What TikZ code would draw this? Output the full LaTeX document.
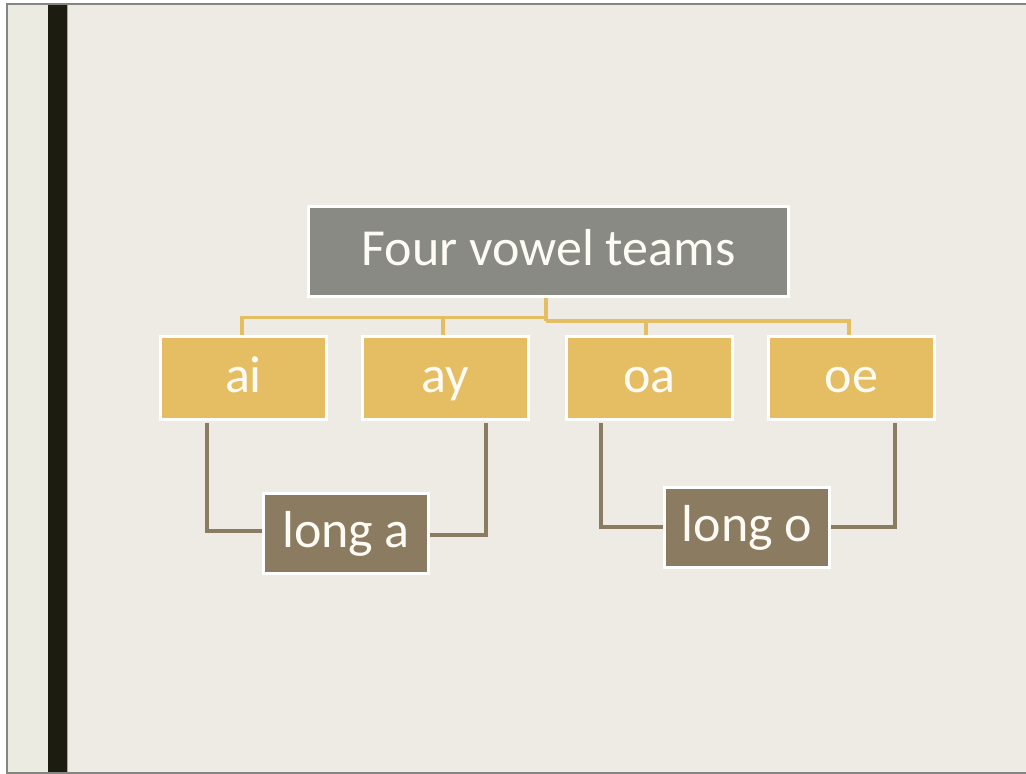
\documentclass[tikz,border=0pt]{standalone}
\usepackage{fontspec}
\setmainfont{Carlito}
\usetikzlibrary{calc}

\definecolor{paper}{HTML}{EEEBE4}
\definecolor{paperleft}{HTML}{ECEBE2}
\definecolor{frame}{HTML}{858583}
\definecolor{bar}{HTML}{1C1C10}
\definecolor{topgray}{HTML}{8A8A85}
\definecolor{gold}{HTML}{E5BE64}
\definecolor{umber}{HTML}{8B7B60}
\definecolor{legbrown}{HTML}{8A7C63}
\definecolor{inktext}{HTML}{FDFBF4}

\tikzset{
  box/.style={draw=white, line width=3pt, text=inktext, inner sep=0pt,
    text height=34pt, text depth=6pt,
    font=\fontsize{52}{58}\selectfont},
  topbox/.style={box, fill=topgray, minimum width=480pt, minimum height=90pt},
  teambox/.style={box, fill=gold, minimum width=166pt, minimum height=83pt},
  soundbox/.style={box, fill=umber, minimum width=165pt, minimum height=80pt},
  bus/.style={draw=gold, line width=3.6pt},
  leg/.style={draw=legbrown, line width=3.6pt, shorten <=2pt},
}

\begin{document}
\begin{tikzpicture}[x=1pt, y=-1pt]
\useasboundingbox (0,0) rectangle (1026,774);

% slide background and frame
\fill[white] (0,0) rectangle (1026,774);
\fill[paper] (7,4.5) rectangle (1026,772.5);
\fill[paperleft] (7,4.5) rectangle (48,772.5);
\draw[frame, line width=2pt] (1026,4) -- (7,4) -- (7,773) -- (1026,773);
\fill[bar] (48,5) rectangle (67,772);
\draw[gray!70, line width=0.6pt] (67,5) -- (67,772);

% nodes
\node[topbox] (top) at (548.5,251.5) {Four vowel teams};
\node[teambox] (ai) at (243.5,378) {ai};
\node[teambox] (ay) at (445,378) {ay};
\node[teambox] (oa) at (649.5,378) {oa};
\node[teambox] (oe) at (851.5,378) {oe};
\node[soundbox] (la) at (346,533.5) {long a};
\node[soundbox] (lo) at (747,527.5) {long o};

% bus from the title to the four teams
\coordinate (busL) at (546,317.5);
\coordinate (busR) at (546,321);
\draw[bus] ([xshift=-2.5pt]top.south) -- (busR);
\draw[bus] (busL) -| ([xshift=-1.5pt]ai.north);
\draw[bus] (busL) -| ([xshift=-2pt]ay.north);
\draw[bus] (busR) -| ([xshift=-3.5pt]oa.north);
\draw[bus] (busR) -| ([xshift=-2.5pt]oe.north);

% legs from the teams to their sounds
\draw[leg] ([xshift=-36.5pt]ai.south) |- ([yshift=2.5pt]la.west);
\draw[leg] ([xshift=41pt]ay.south) |- ([yshift=-1.5pt]la.east);
\draw[leg] ([xshift=-48.5pt]oa.south) |- ([yshift=0.5pt]lo.west);
\draw[leg] ([xshift=43.5pt]oe.south) |- ([yshift=0.5pt]lo.east);
\end{tikzpicture}
\end{document}
